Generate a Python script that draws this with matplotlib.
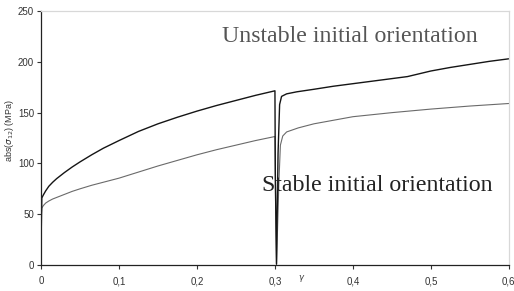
import matplotlib
matplotlib.use("Agg")
import matplotlib.pyplot as plt
from matplotlib.ticker import FuncFormatter

# unstable initial orientation (black curve)
gamma_unstable = [0, 0.001, 0.003, 0.006, 0.01, 0.015, 0.02, 0.03, 0.04, 0.05, 0.065,
                  0.08, 0.1, 0.125, 0.15, 0.175, 0.2, 0.225, 0.25, 0.275, 0.3,
                  0.3005, 0.302, 0.304, 0.306, 0.3085, 0.315, 0.328, 0.35, 0.375,
                  0.4, 0.425, 0.45, 0.47, 0.5, 0.525, 0.55, 0.575, 0.6]
stress_unstable = [20, 66, 69, 73, 77.5, 81.5, 85, 91, 96.5, 101.5, 108.5,
                   115, 122.5, 131.5, 139, 145.5, 151.5, 157, 162, 167, 171.5,
                   90, 1, 110, 158, 166, 168.5, 170.5, 173, 176,
                   178.5, 181, 183.5, 185.5, 191, 194.5, 197.5, 200.5, 203]

# stable initial orientation (grey curve)
gamma_stable = [0, 0.001, 0.003, 0.006, 0.01, 0.015, 0.02, 0.03, 0.04, 0.05, 0.065,
                0.08, 0.1, 0.125, 0.15, 0.175, 0.2, 0.225, 0.25, 0.275, 0.3,
                0.3008, 0.302, 0.305, 0.307, 0.31, 0.315, 0.33, 0.35, 0.375,
                0.4, 0.425, 0.45, 0.5, 0.55, 0.6]
stress_stable = [44, 56, 58.5, 61, 63, 65, 66.5, 69.5, 72.5, 75, 78.5,
                 81.5, 85.5, 91.5, 97.5, 103, 108.5, 113.5, 118, 122.5, 126.5,
                 60, 0, 80, 118, 127, 131, 135, 139, 142.5,
                 146, 148, 150, 153.5, 156.5, 159]

x_ticks = [0, 0.1, 0.2, 0.3, 0.4, 0.5, 0.6]
y_ticks = [0, 50, 100, 150, 200, 250]

plt.rcParams["font.family"] = ["Liberation Sans", "DejaVu Sans"]

fig = plt.figure(figsize=(5.14, 2.91), dpi=100)
fig.patch.set_facecolor("white")
ax = fig.add_axes([0.0798, 0.0893, 0.9102, 0.8727])

ax.plot(gamma_stable, stress_stable, color="#6a6a6a", lw=0.8)
ax.plot(gamma_unstable, stress_unstable, color="#151515", lw=1.0)

ax.set_xlim(0, 0.6)
ax.set_ylim(0, 250)
ax.set_xticks(x_ticks)
ax.set_yticks(y_ticks)
ax.xaxis.set_major_formatter(FuncFormatter(lambda v, p: ("%g" % v).replace(".", ",")))
ax.tick_params(axis="both", direction="out", length=3, width=0.8,
               labelsize=7, colors="#333333", pad=2)
ax.tick_params(axis="x", pad=5)

for s in ["left", "bottom"]:
    ax.spines[s].set_color("#222222")
    ax.spines[s].set_linewidth(0.9)
for s in ["top", "right"]:
    ax.spines[s].set_color("#d8d8d8")
    ax.spines[s].set_linewidth(0.9)

ax.set_ylabel(r"abs($\sigma_{12}$) (MPa)", fontsize=6.5, color="#333333")
ax.yaxis.set_label_coords(-0.053, 0.53)
ax.set_xlabel(r"$\gamma$", fontsize=6, color="#333333")
ax.xaxis.set_label_coords(0.557, -0.03)

ax.text(0.387, 0.9, "Unstable initial orientation", transform=ax.transAxes,
        fontsize=17.2, family="Liberation Serif", color="#555555",
        ha="left", va="center")
ax.text(0.472, 0.315, "Stable initial orientation", transform=ax.transAxes,
        fontsize=17.2, family="Liberation Serif", color="#222222",
        ha="left", va="center")

fig.savefig("out.png", dpi=100)
